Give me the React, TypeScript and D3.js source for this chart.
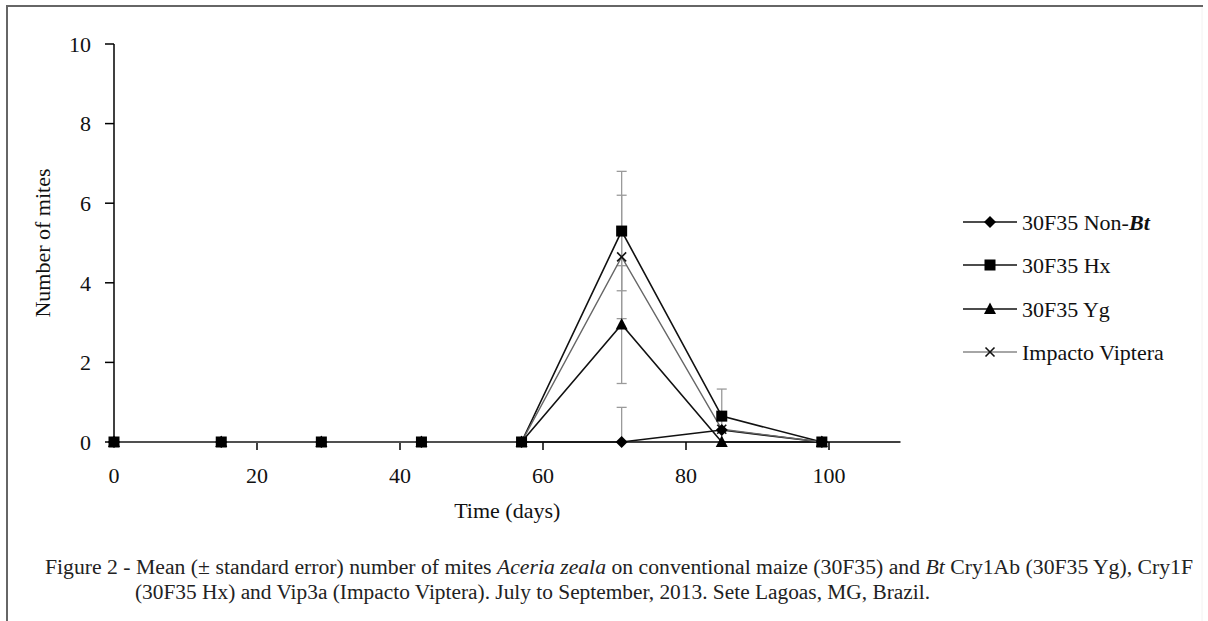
import React from "react";
import * as d3 from "d3";

const days = [0, 15, 29, 43, 57, 71, 85, 99];
const nonBt = [0, 0, 0, 0, 0, 0, 0.3, 0];
const hx = [0, 0, 0, 0, 0, 5.3, 0.65, 0];
const yg = [0, 0, 0, 0, 0, 2.95, 0, 0];
const impacto = [0, 0, 0, 0, 0, 4.65, 0.32, 0];
const errNonBt = [0, 0, 0, 0, 0, 0.87, 0, 0];
const errHx = [0, 0, 0, 0, 0, 1.5, 0.68, 0];
const errYg = [0, 0, 0, 0, 0, 1.48, 0, 0];
const errImpacto = [0, 0, 0, 0, 0, 1.55, 0, 0];
const xTicks = [0, 20, 40, 60, 80, 100];
const yTicks = [0, 2, 4, 6, 8, 10];
const seriesNames = ["30F35 Non-", "30F35 Hx", "30F35 Yg", "Impacto Viptera"];

const FONT = "'Liberation Serif', 'Times New Roman', serif";

type Sym = "diamond" | "square" | "triangle" | "cross";

function Marker({ x, y, sym, color }: { x: number; y: number; sym: Sym; color: string }) {
  if (sym === "square") return <rect x={x - 5.5} y={y - 5.5} width={11} height={11} fill={color} />;
  if (sym === "diamond") return <path d={`M${x},${y - 6}L${x + 6},${y}L${x},${y + 6}L${x - 6},${y}Z`} fill={color} />;
  if (sym === "triangle") return <path d={`M${x},${y - 6.5}L${x + 6},${y + 5}L${x - 6},${y + 5}Z`} fill={color} />;
  return (
    <g stroke={color} strokeWidth={1.6}>
      <line x1={x - 4.5} y1={y - 4.5} x2={x + 4.5} y2={y + 4.5} />
      <line x1={x - 4.5} y1={y + 4.5} x2={x + 4.5} y2={y - 4.5} />
    </g>
  );
}

export default function App() {
  const x = d3.scaleLinear().domain([0, 110]).range([114, 900.5]);
  const y = d3.scaleLinear().domain([0, 10]).range([442, 44]);
  const line = d3
    .line<number>()
    .x((_, i) => x(days[i]))
    .y((d) => y(d));

  const series = [
    { vals: nonBt, err: errNonBt, sym: "diamond" as Sym, color: "#000", lineColor: "#111", w: 1.6 },
    { vals: hx, err: errHx, sym: "square" as Sym, color: "#000", lineColor: "#111", w: 1.6 },
    { vals: yg, err: errYg, sym: "triangle" as Sym, color: "#000", lineColor: "#111", w: 1.6 },
    { vals: impacto, err: errImpacto, sym: "cross" as Sym, color: "#111", lineColor: "#666", w: 1.4 },
  ];

  const legendY = [222, 265, 309, 352];

  return (
    <svg
      width={1208}
      height={621}
      style={{ position: "absolute", left: 0, top: 0, background: "#fff" }}
      fontFamily={FONT}
    >
      <rect x={0} y={0} width={1208} height={621} fill="#fff" />
      {/* frame */}
      <line x1={7} y1={6} x2={1203} y2={6} stroke="#666" strokeWidth={2} />
      <line x1={7} y1={5} x2={7} y2={621} stroke="#666" strokeWidth={2} />
      <line x1={1202} y1={7} x2={1202} y2={621} stroke="#f2f2f2" strokeWidth={1} />

      {/* error bars */}
      {series.map((s, si) =>
        s.vals.map((v, i) =>
          s.err[i] > 0 ? (
            <g key={`e${si}-${i}`} stroke="#9a9a9a" strokeWidth={1.3}>
              <line x1={x(days[i])} x2={x(days[i])} y1={y(v + s.err[i])} y2={y(Math.max(0, v - s.err[i]))} />
              <line x1={x(days[i]) - 5} x2={x(days[i]) + 5} y1={y(v + s.err[i])} y2={y(v + s.err[i])} />
              {v - s.err[i] > 0 && (
                <line x1={x(days[i]) - 5} x2={x(days[i]) + 5} y1={y(v - s.err[i])} y2={y(v - s.err[i])} />
              )}
            </g>
          ) : null
        )
      )}

      {/* axes */}
      <line x1={114} x2={114} y1={y(10)} y2={y(0)} stroke="#000" strokeWidth={1.5} />
      <line x1={x(0)} x2={x(110)} y1={y(0)} y2={y(0)} stroke="#000" strokeWidth={1.5} />
      {yTicks.map((t) => (
        <g key={`yt${t}`}>
          <line x1={105} x2={114} y1={y(t)} y2={y(t)} stroke="#000" strokeWidth={1.5} />
          <text x={91} y={y(t)} dy="0.35em" textAnchor="end" fontSize={22} fill="#111">
            {t}
          </text>
        </g>
      ))}
      {xTicks.map((t) => (
        <g key={`xt${t}`}>
          {t > 0 && <line x1={x(t)} x2={x(t)} y1={442} y2={450} stroke="#000" strokeWidth={1.5} />}
          <text x={x(t)} y={475} dy="0.35em" textAnchor="middle" fontSize={22} fill="#111">
            {t}
          </text>
        </g>
      ))}
      <text x={x(55)} y={510} dy="0.35em" textAnchor="middle" fontSize={22} fill="#111">
        Time (days)
      </text>
      <text
        transform={`translate(42, ${y(5)}) rotate(-90)`}
        dy="0.35em"
        textAnchor="middle"
        fontSize={22}
        fill="#111"
      >
        Number of mites
      </text>

      {/* lines */}
      {series.map((s, si) => (
        <path key={`l${si}`} d={line(s.vals) || ""} fill="none" stroke={s.lineColor} strokeWidth={s.w} />
      ))}
      {/* markers */}
      {[3, 0, 2, 1].map((si) =>
        series[si].vals.map((v, i) => (
          <Marker key={`m${si}-${i}`} x={x(days[i])} y={y(v)} sym={series[si].sym} color={series[si].color} />
        ))
      )}

      {/* legend */}
      {series.map((s, si) => (
        <g key={`lg${si}`}>
          <line x1={963} x2={1017} y1={legendY[si]} y2={legendY[si]} stroke={si === 3 ? "#888" : s.lineColor} strokeWidth={s.w} />
          <Marker x={990} y={legendY[si]} sym={s.sym} color={s.color} />
          <text x={1022} y={legendY[si]} dy="0.35em" fontSize={22} fill="#111">
            {seriesNames[si]}
            {si === 0 && (
              <tspan fontWeight="bold" fontStyle="italic">
                Bt
              </tspan>
            )}
          </text>
        </g>
      ))}

      {/* caption */}
      <text x={45} y={567} dy="0.35em" fontSize={20} fill="#222" textLength={1148} lengthAdjust="spacingAndGlyphs">
        Figure 2 - Mean (± standard error) number of mites <tspan fontStyle="italic">Aceria zeala</tspan> on
        conventional maize (30F35) and <tspan fontStyle="italic">Bt</tspan> Cry1Ab (30F35 Yg), Cry1F
      </text>
      <text x={135} y={592} dy="0.35em" fontSize={20} fill="#222" textLength={795} lengthAdjust="spacingAndGlyphs">
        (30F35 Hx) and Vip3a (Impacto Viptera). July to September, 2013. Sete Lagoas, MG, Brazil.
      </text>
    </svg>
  );
}
